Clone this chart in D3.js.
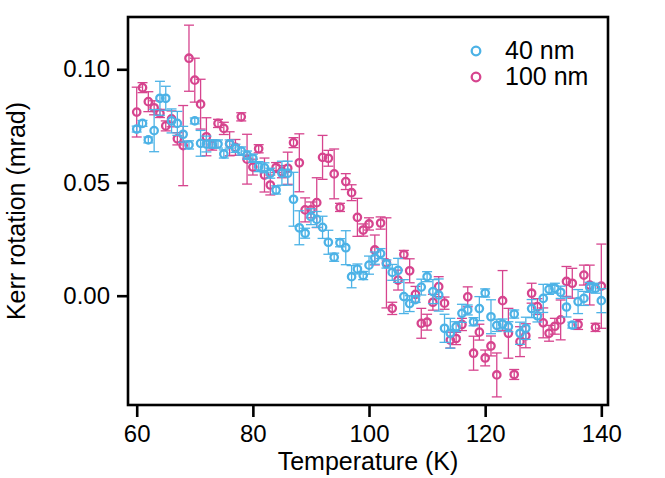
<!DOCTYPE html>
<html><head><meta charset="utf-8">
<script src="https://cdn.jsdelivr.net/npm/d3@7"></script>
<style>
html,body{margin:0;padding:0;background:#fff;}
svg text{font-family:"Liberation Sans",Arial,Helvetica,sans-serif;fill:#000;}
</style></head>
<body><svg id="c" width="665" height="478"></svg>
<script>
const temps = [60,61,62,63,64,65,66,67,68,69,70,71,72,73,74,75,76,77,78,79,80,81,82,83,84,85,86,87,88,89,90,91,92,93,94,95,96,97,98,99,100,101,102,103,104,105,106,107,108,109,110,111,112,113,114,115,116,117,118,119,120,121,122,123,124,125,126,127,128,129,130,131,132,133,134,135,136,137,138,139,140];
const kerr40 = [0.0736,0.0761,0.0688,0.0729,0.0872,0.0872,0.0772,0.0761,0.0713,0.0666,
0.0772,0.0673,0.0670,0.0670,0.0670,0.0626,0.0670,0.0651,0.0639,0.0621,
0.0607,0.0570,0.0565,0.0541,0.0467,0.0541,0.0541,0.0426,0.0300,0.0276,
0.0349,0.0337,0.0302,0.0236,0.0170,0.0234,0.0212,0.0084,0.0118,0.0089,
0.0135,0.0166,0.0186,0.0140,0.0103,0.0112,-0.0004,-0.0035,-0.0017,0.0038,
0.0084,0.0018,0.0003,-0.0144,-0.0166,-0.0137,-0.0078,-0.0063,-0.0115,-0.0057,
0.0012,-0.0093,-0.0131,-0.0125,-0.0137,-0.0081,-0.0166,-0.0144,-0.0057,-0.0089,
-0.0012,0.0028,0.0033,0.0015,-0.0050,-0.0130,-0.0026,-0.0012,0.0037,0.0033,-0.0022];
const err40 = [0.0013,0.0013,0.0013,0.0093,0.0075,0.0053,0.0053,0.0053,0.0035,0.0018,
0.0013,0.0057,0.0035,0.0018,0.0018,0.0018,0.0018,0.0018,0.0018,0.0018,
0.0018,0.0022,0.0022,0.0022,0.0018,0.0053,0.0053,0.0119,0.0075,0.0022,
0.0035,0.0035,0.0049,0.0053,0.0018,0.0018,0.0075,0.0049,0.0022,0.0018,
0.0040,0.0027,0.0022,0.0018,0.0035,0.0053,0.0075,0.0035,0.0013,0.0035,
0.0022,0.0053,0.0071,0.0062,0.0066,0.0022,0.0040,0.0022,0.0018,0.0053,
0.0018,0.0075,0.0027,0.0022,0.0022,0.0018,0.0049,0.0049,0.0040,0.0027,
0.0062,0.0022,0.0022,0.0027,0.0044,0.0013,0.0053,0.0031,0.0022,0.0022,0.0053];
const kerr100 = [0.0811,0.0919,0.0857,0.0830,0.0805,0.0750,0.0781,0.0693,0.0663,0.1049,
0.0952,0.0846,0.0702,0.0665,0.0761,0.0739,0.0671,0.0655,0.0790,0.0603,
0.0568,0.0649,0.0533,0.0489,0.0566,0.0548,0.0563,0.0676,0.0587,0.0379,
0.0379,0.0411,0.0611,0.0607,0.0538,0.0390,0.0504,0.0455,0.0346,0.0290,
0.0317,0.0202,0.0321,0.0145,-0.0056,0.0069,0.0182,0.0110,0.0006,-0.0122,
-0.0117,-0.0029,0.0040,-0.0033,-0.0196,-0.0189,-0.0127,-0.0005,-0.0254,-0.0161,
-0.0275,-0.0222,-0.0350,-0.0022,-0.0166,-0.0348,-0.0203,-0.0177,0.0011,-0.0048,
-0.0120,-0.0166,-0.0135,-0.0107,0.0063,0.0055,-0.0127,0.0091,0.0047,-0.0140,0.0042];
const err100 = [0.0110,0.0022,0.0044,0.0031,0.0018,0.0022,0.0035,0.0027,0.0177,0.0146,
0.0097,0.0110,0.0084,0.0022,0.0018,0.0027,0.0053,0.0035,0.0018,0.0110,
0.0035,0.0018,0.0075,0.0044,0.0022,0.0027,0.0071,0.0022,0.0128,0.0053,
0.0035,0.0110,0.0097,0.0035,0.0110,0.0018,0.0035,0.0035,0.0084,0.0027,
0.0027,0.0066,0.0027,0.0199,0.0027,0.0044,0.0018,0.0053,0.0035,0.0066,
0.0035,0.0035,0.0044,0.0027,0.0035,0.0027,0.0027,0.0044,0.0075,0.0035,
0.0035,0.0044,0.0097,0.0133,0.0110,0.0022,0.0066,0.0053,0.0044,0.0035,
0.0066,0.0035,0.0035,0.0088,0.0066,0.0066,0.0022,0.0044,0.0088,0.0018,0.0186];
const xTicks = [60,80,100,120,140];
const yTicks = [0.00,0.05,0.10];
const seriesNames = ["40 nm","100 nm"];
const seriesColors = ["#4cb2e6","#d6448e"];

const svg = d3.select("#c");
const L=128, R=608, T=17, B=405;
const x = d3.scaleLinear().domain([58.5,141.15]).range([L,R]);
const y = d3.scaleLinear().domain([-0.04828,0.1231]).range([B,T]);

const series = [
  {name:seriesNames[0], color:seriesColors[0], v:kerr40, e:err40},
  {name:seriesNames[1], color:seriesColors[1], v:kerr100, e:err100}
];

const plot = svg.append("g");
// draw 100 nm first, 40 nm on top
[series[1], series[0]].forEach(s=>{
  const g = plot.append("g");
  const d = temps.map((t,i)=>({t, v:s.v[i], e:s.e[i]}));
  const eb = g.selectAll("g.eb").data(d).enter().append("g")
    .attr("stroke", s.color).attr("stroke-width",1.3).attr("fill","none");
  eb.append("line").attr("x1",d=>x(d.t)).attr("x2",d=>x(d.t))
    .attr("y1",d=>y(d.v+d.e)).attr("y2",d=>y(d.v-d.e));
  eb.append("line").attr("x1",d=>x(d.t)-5).attr("x2",d=>x(d.t)+5)
    .attr("y1",d=>y(d.v+d.e)).attr("y2",d=>y(d.v+d.e));
  eb.append("line").attr("x1",d=>x(d.t)-5).attr("x2",d=>x(d.t)+5)
    .attr("y1",d=>y(d.v-d.e)).attr("y2",d=>y(d.v-d.e));
  g.selectAll("circle").data(d).enter().append("circle")
    .attr("cx",d=>x(d.t)).attr("cy",d=>y(d.v)).attr("r",3.7)
    .attr("fill","none").attr("stroke",s.color).attr("stroke-width",2.3);
});

// frame
svg.append("rect").attr("x",L).attr("y",T).attr("width",R-L).attr("height",B-T)
  .attr("fill","none").attr("stroke","#000").attr("stroke-width",2.6);

// axes
const xa = svg.append("g").attr("transform",`translate(0,${B})`)
  .call(d3.axisBottom(x).tickValues(xTicks).tickSize(12).tickPadding(8).tickFormat(d3.format("d")));
const ya = svg.append("g").attr("transform",`translate(${L},0)`)
  .call(d3.axisLeft(y).tickValues(yTicks).tickSize(11).tickPadding(7).tickFormat(d3.format(".2f")));
[xa,ya].forEach(a=>{
  a.select(".domain").remove();
  a.selectAll(".tick line").attr("stroke","#000").attr("stroke-width",2.6);
  a.selectAll(".tick text").attr("font-size",24).attr("fill","#000")
   .attr("font-family","Liberation Sans, Arial, sans-serif");
});

svg.append("text").attr("x",(L+R)/2).attr("y",470).attr("text-anchor","middle")
  .attr("font-size",25).text("Temperature (K)");
svg.append("text").attr("transform",`translate(25,${(T+B)/2}) rotate(-90)`)
  .attr("text-anchor","middle").attr("font-size",25).text("Kerr rotation (mrad)");

// legend
const lg = svg.append("g");
series.forEach((s,i)=>{
  lg.append("circle").attr("cx",476).attr("cy",51+i*26).attr("r",4.3)
    .attr("fill","none").attr("stroke",s.color).attr("stroke-width",2.3);
  lg.append("text").attr("x",505).attr("y",59+i*26).attr("font-size",25).text(s.name);
});
</script></body></html>
